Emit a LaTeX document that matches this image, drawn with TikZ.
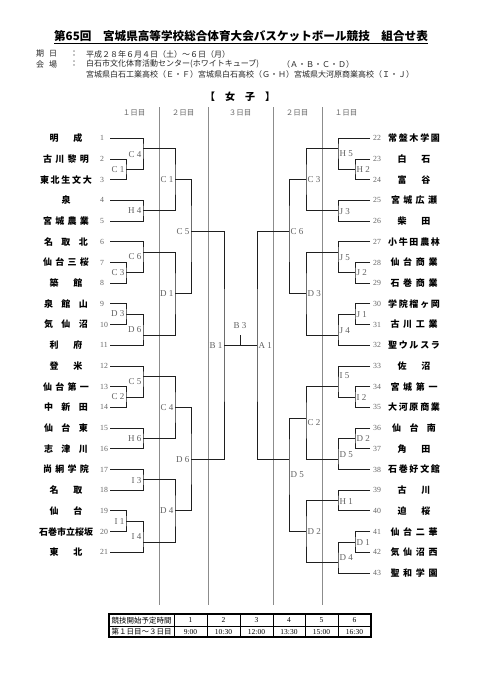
\documentclass[tikz,border=0pt]{standalone}
\usepackage{fontspec}
\setmainfont{Liberation Serif}
\newfontfamily\jp{Noto Sans CJK JP}
\def\spr#1{\sprA#1\relax}
\def\sprA#1{#1\sprB}
\def\sprB#1{\ifx\relax#1\else\hfil#1\expandafter\sprB\fi}
\newcommand\tnm[2]{\makebox[#1pt][s]{\expandafter\spr\expandafter{#2}}}
\tikzset{
  br/.style={draw=black!88, line width=0.9pt},
  dayline/.style={draw=black!45, line width=0.5pt},
  lab/.style={font=\fontsize{9}{10}\selectfont, text=black!62, inner sep=0.5pt},
  num/.style={font=\fontsize{7.8}{8}\selectfont, text=black!60, inner sep=0pt},
  tname/.style={font=\jp\bfseries\fontsize{9}{10}\selectfont, inner sep=0pt},
  info/.style={font=\jp\fontsize{8}{9}\selectfont, text=black!85, inner sep=0pt},
  dayh/.style={font=\jp\fontsize{7.5}{8}\selectfont, text=black!60, inner sep=0pt},
  tb/.style={font=\jp\fontsize{7.5}{8}\selectfont, inner sep=0pt},
  tbn/.style={font=\fontsize{7.5}{8}\selectfont, inner sep=0pt}
}
\newcommand\mL[7]{\coordinate (#1) at (#4,#5); \draw[br] (#2) -| (#1) |- (#3); \node[lab,anchor=east] (lb#1) at ({#4-1},#6) {#7};}
\newcommand\mR[7]{\coordinate (#1) at (#4,#5); \draw[br] (#2) -| (#1) |- (#3); \node[lab,anchor=west] (lb#1) at ({#4+1},#6) {#7};}
\begin{document}
\begin{tikzpicture}[x=1pt,y=-1pt]
\useasboundingbox (0,0) rectangle (481,680);
\fill[white] (0,0) rectangle (481,680);

% title and info
\node (title) at (241,37) {\jp\bfseries\fontsize{11.6}{12}\selectfont\underline{第65回　宮城県高等学校総合体育大会バスケットボール競技　組合せ表}};
\node[info,anchor=west] (k1) at (36,54) {\makebox[21pt][s]{期\hfil 日}};
\node[info] (c1) at (74,54) {：};
\node[info,anchor=west] (v1) at (86,54) {平成２８年６月４日（土）～６日（月）};
\node[info,anchor=west] (k2) at (36,64) {\makebox[21pt][s]{会\hfil 場}};
\node[info] (c2) at (74,64) {：};
\node[info,anchor=west] (v2) at (86,64) {白石市文化体育活動センター(ホワイトキューブ)};
\node[info,anchor=west] (v2b) at (282,64) {（Ａ・Ｂ・Ｃ・Ｄ）};
\node[info,anchor=west] (v3) at (86,74) {宮城県白石工業高校（Ｅ・Ｆ）宮城県白石高校（Ｇ・Ｈ）宮城県大河原商業高校（Ｉ・Ｊ）};
\node (head) at (240,97) {\jp\bfseries\fontsize{10}{11}\selectfont 【　女　子　】};

% day headers and lines
\node[dayh] (d1) at (134,113) {１日目};
\node[dayh] (d2) at (183,113) {２日目};
\node[dayh] (d3) at (240,113) {３日目};
\node[dayh] (d4) at (297,113) {２日目};
\node[dayh] (d5) at (346,113) {１日目};
\foreach \x in {159,208,273,322} \draw[dayline] (\x,107) -- (\x,605);

% left teams
\foreach \i/\w/\n in {1/33/明成,2/46/古川黎明,3/52/東北生文大,4/9/泉,5/46/宮城農業,6/44/名取北,7/46/仙台三桜,8/33/築館,9/44/泉館山,10/44/気仙沼,11/33/利府,12/33/登米,13/46/仙台第一,14/44/中新田,15/44/仙台東,16/44/志津川,17/46/尚絅学院,18/33/名取,19/33/仙台,20/54/石巻市立桜坂,21/33/東北}{
  \pgfmathsetmacro\yy{138.3+20.7*(\i-1)}
  \node[tname] (tl\i) at (66,\yy) {\tnm{\w}{\n}};
  \node[num,anchor=west] (nl\i) at (100,\yy) {\i};
  \coordinate (L\i) at (110,\yy);
}
% right teams
\foreach \i/\w/\n in {22/52/常盤木学園,23/33/白石,24/33/富谷,25/46/宮城広瀬,26/33/柴田,27/52/小牛田農林,28/47/仙台商業,29/47/石巻商業,30/52/学院榴ヶ岡,31/47/古川工業,32/52/聖ウルスラ,33/33/佐沼,34/47/宮城第一,35/52/大河原商業,36/44/仙台南,37/33/角田,38/52/石巻好文館,39/33/古川,40/33/迫桜,41/47/仙台二華,42/47/気仙沼西,43/47/聖和学園}{
  \pgfmathsetmacro\yy{138.3+20.7*(\i-22)}
  \node[tname] (tr\i) at (414,\yy) {\tnm{\w}{\n}};
  \node[num,anchor=west] (nr\i) at (373,\yy) {\i};
  \coordinate (R\i) at (370,\yy);
}

% left bracket
\mL{lC1a}{L2}{L3}{126}{169.35}{169.35}{C 1}
\mL{lC4}{L1}{lC1a}{143}{148.65}{155}{C 4}
\mL{lH4}{L4}{L5}{143}{210.75}{211}{H 4}
\mL{lC1}{lC4}{lH4}{175}{179.7}{180}{C 1}
\mL{lC3}{L7}{L8}{126}{272.85}{273}{C 3}
\mL{lC6}{L6}{lC3}{143}{252.15}{257}{C 6}
\mL{lD3}{L9}{L10}{126}{314.25}{314}{D 3}
\mL{lD6a}{lD3}{L11}{143}{334.95}{330}{D 6}
\mL{lD1}{lC6}{lD6a}{175}{293.55}{294}{D 1}
\mL{lC5}{lC1}{lD1}{191}{231.45}{232}{C 5}
\mL{lC2}{L13}{L14}{126}{397.05}{397}{C 2}
\mL{lC5a}{L12}{lC2}{143}{376.35}{382}{C 5}
\mL{lH6}{L15}{L16}{143}{438.45}{439}{H 6}
\mL{lC4a}{lC5a}{lH6}{175}{407.4}{408}{C 4}
\mL{lI3}{L17}{L18}{143}{479.85}{481}{I 3}
\mL{lI1}{L19}{L20}{126}{521.25}{522}{I 1}
\mL{lI4}{lI1}{L21}{143}{541.95}{537}{I 4}
\mL{lD4}{lI3}{lI4}{175}{510.9}{511}{D 4}
\mL{lD6}{lC4a}{lD4}{191}{459.15}{460}{D 6}
\mL{B1}{lC5}{lD6}{224}{345.3}{346}{B 1}

% right bracket
\mR{rH2}{R23}{R24}{355}{169.35}{170}{H 2}
\mR{rH5}{R22}{rH2}{338}{148.65}{154}{H 5}
\mR{rJ3}{R25}{R26}{338}{210.75}{212}{J 3}
\mR{rC3}{rH5}{rJ3}{306}{179.7}{180}{C 3}
\mR{rJ2}{R28}{R29}{355}{272.85}{273}{J 2}
\mR{rJ5}{R27}{rJ2}{338}{252.15}{258}{J 5}
\mR{rJ1}{R30}{R31}{355}{314.25}{315}{J 1}
\mR{rJ4}{rJ1}{R32}{338}{334.95}{331}{J 4}
\mR{rD3}{rJ5}{rJ4}{306}{293.55}{294}{D 3}
\mR{rC6}{rC3}{rD3}{289}{231.45}{232}{C 6}
\mR{rI2}{R34}{R35}{355}{397.05}{398}{I 2}
\mR{rI5}{R33}{rI2}{338}{386.7}{376}{I 5}
\mR{rD2}{R36}{R37}{355}{438.45}{439}{D 2}
\mR{rD5}{rD2}{R38}{338}{459.15}{455}{D 5}
\mR{rC2}{rI5}{rD5}{306}{418}{423}{C 2}
\mR{rH1}{R39}{R40}{338}{500.55}{502}{H 1}
\mR{rD1}{R41}{R42}{355}{541.95}{543}{D 1}
\mR{rD4}{rD1}{R43}{338}{562.65}{558}{D 4}
\mR{rD2b}{rH1}{rD4}{306}{531.6}{532}{D 2}
\mR{rD5b}{rC2}{rD2b}{289}{459.15}{475}{D 5}
\mR{A1}{rC6}{rD5b}{257}{345.3}{346}{A 1}

% final
\draw[br] (B1) -- (A1);
\coordinate (B3) at (240.5,345.3);
\coordinate (B3t) at (240.5,335);
\draw[br] (B3) -- (B3t);
\node[lab] (lbB3) at (240,326) {B 3};

% schedule table
\foreach \x in {207,240,273,305,338} \draw[line width=0.5pt] (\x,614) -- (\x,637);
\draw[line width=0.5pt] (109,626) -- (371,626);
\draw[line width=0.9pt] (174,614) -- (174,637);
\draw[line width=1.2pt] (109,614) rectangle (371,637);
\node[tb] (h0) at (141.5,620.2) {競技開始予定時間};
\node[tb] (r0) at (141.5,631.6) {第１日目～３日目};
\foreach \k/\cx/\t in {1/190.5/9:00,2/223.5/10:30,3/256.5/12:00,4/289/13:30,5/321.5/15:00,6/354.5/16:30}{
  \node[tbn] (h\k) at (\cx,620.2) {\k};
  \node[tbn] (r\k) at (\cx,631.6) {\t};
}
\end{tikzpicture}
\end{document}
